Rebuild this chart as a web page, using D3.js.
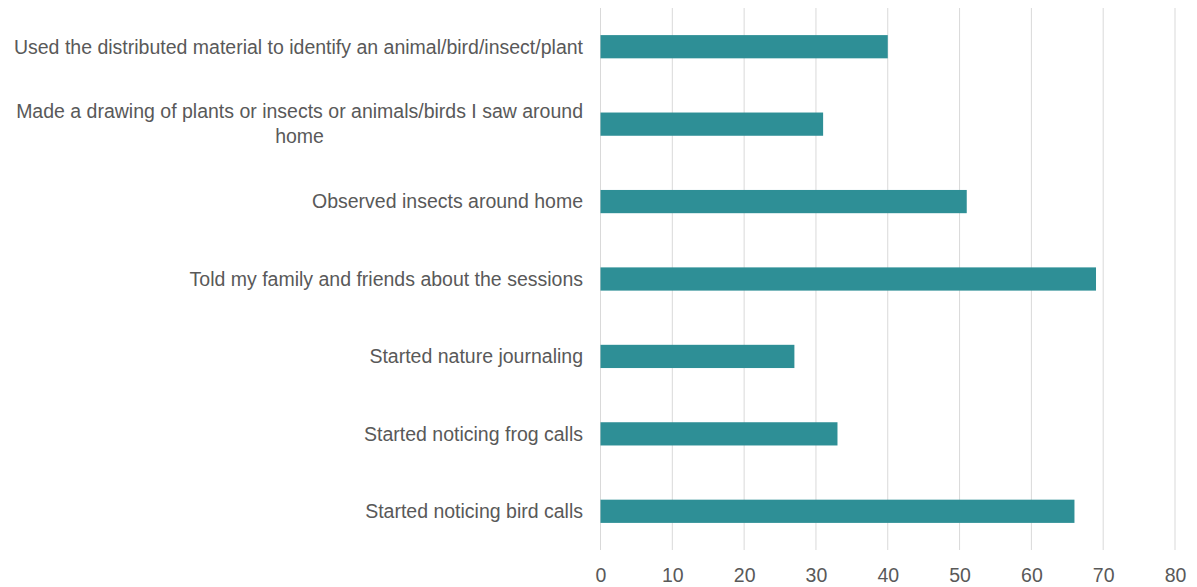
<!DOCTYPE html>
<html>
<head>
<meta charset="utf-8">
<script src="https://cdn.jsdelivr.net/npm/d3@7"></script>
<style>
  html, body { margin: 0; padding: 0; background: #fff; }
  svg { display: block; }
  text { font-family: "Liberation Sans", Arial, sans-serif; fill: #595959; }
</style>
</head>
<body>
<svg id="chart" width="1197" height="587"></svg>
<script>
// Activities reported after the sessions (number of respondents)
const categories = [
  "Used the distributed material to identify an animal/bird/insect/plant",
  "Made a drawing of plants or insects or animals/birds I saw around home",
  "Observed insects around home",
  "Told my family and friends about the sessions",
  "Started nature journaling",
  "Started noticing frog calls",
  "Started noticing bird calls"
];
const values = [40, 31, 51, 69, 27, 33, 66];
const xTicks = [0, 10, 20, 30, 40, 50, 60, 70, 80];

const width = 1197, height = 587;
const margin = { top: 8, right: 22, bottom: 37, left: 600.5 };
const svg = d3.select("#chart");

const x = d3.scaleLinear()
  .domain([0, 80])
  .range([margin.left, width - margin.right]);

const y = d3.scaleBand()
  .domain(categories)
  .range([margin.top, height - margin.bottom])
  .paddingInner(0.7)
  .paddingOuter(0.35);

// vertical gridlines
svg.append("g")
  .selectAll("line")
  .data(xTicks)
  .join("line")
  .attr("x1", d => x(d)).attr("x2", d => x(d))
  .attr("y1", margin.top).attr("y2", height - margin.bottom)
  .attr("stroke", "#d9d9d9")
  .attr("stroke-width", 1);

// x tick labels
const xAxis = d3.axisBottom(x).tickValues(xTicks).tickSize(0).tickPadding(0);
const gx = svg.append("g")
  .attr("transform", `translate(0,${height - margin.bottom})`)
  .call(xAxis);
gx.select(".domain").remove();
gx.selectAll("text")
  .attr("dy", null)
  .attr("y", 32)
  .style("font-size", "19.5px")
  .style("font-family", "'Liberation Sans', Arial, sans-serif")
  .attr("fill", "#595959");

// bars
svg.append("g")
  .selectAll("rect")
  .data(values)
  .join("rect")
  .attr("x", x(0))
  .attr("y", (d, i) => y(categories[i]))
  .attr("width", d => x(d) - x(0))
  .attr("height", y.bandwidth())
  .attr("fill", "#2e8f96");

// category labels, wrapped to the space left of the plot
const labelRight = 583;
const maxWidth = 582;
const lineHeight = 25;
const labels = svg.append("g").style("font-size", "19.5px");

categories.forEach(cat => {
  const cy = y(cat) + y.bandwidth() / 2;
  const t = labels.append("text").attr("text-anchor", "middle");
  const words = cat.split(" ");
  const lines = [];
  let line = [];
  const probe = t.append("tspan");
  words.forEach(w => {
    const trial = line.concat(w).join(" ");
    probe.text(trial);
    if (line.length && probe.node().getComputedTextLength() > maxWidth) {
      lines.push(line.join(" "));
      line = [w];
    } else {
      line.push(w);
    }
  });
  lines.push(line.join(" "));
  probe.remove();

  // width of the widest line decides the block's centre
  const widths = lines.map(l => {
    const tmp = t.append("tspan").text(l);
    const wv = tmp.node().getComputedTextLength();
    tmp.remove();
    return wv;
  });
  const blockW = d3.max(widths);
  const cx = labelRight - blockW / 2;
  const y0 = cy - (lines.length - 1) * lineHeight / 2;
  lines.forEach((l, k) => {
    t.append("tspan")
      .attr("x", cx)
      .attr("y", y0 + k * lineHeight)
      .attr("dy", "0.35em")
      .text(l);
  });
});
</script>
</body>
</html>
